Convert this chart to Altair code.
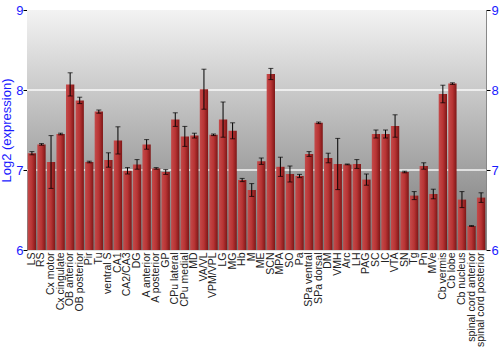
import altair as alt
import pandas as pd

regions = ["LS", "RS", "Cx motor", "Cx cingulate", "OB anterior", "OB posterior", "Pir", "Tu",
           "ventral S", "CA1", "CA2/CA3", "DG", "A anterior", "A posterior", "GP", "CPu lateral",
           "CPu medial", "MD", "VA/VL", "VPM/VPL", "LG", "MG", "Hb", "M", "ME", "SCN", "MPA", "SO",
           "Pa", "SPa ventral", "SPa dorsal", "DM", "VMH", "Arc", "LH", "PAG", "SC", "IC", "VTA",
           "SN", "Tg", "Pn", "MVe", "Cb vermis", "Cb lobe", "Cb nucleus",
           "spinal cord anterior", "spinal cord posterior"]
values = [7.21, 7.32, 7.10, 7.45, 8.07, 7.87, 7.10, 7.73,
          7.125, 7.37, 6.99, 7.07, 7.32, 7.02, 6.975, 7.63,
          7.42, 7.43, 8.01, 7.44, 7.63, 7.49, 6.875, 6.75, 7.11, 8.20, 7.04, 6.95,
          6.925, 7.20, 7.59, 7.15, 7.075, 7.07, 7.075, 6.88, 7.45, 7.45, 7.55,
          6.975, 6.68, 7.05, 6.70, 7.95, 8.08, 6.63,
          6.30, 6.655]
errors = [0.02, 0.01, 0.33, 0.01, 0.145, 0.04, 0.01, 0.02,
          0.09, 0.17, 0.04, 0.06, 0.06, 0.01, 0.03, 0.085,
          0.125, 0.03, 0.25, 0.01, 0.22, 0.10, 0.02, 0.08, 0.04, 0.07, 0.12, 0.10,
          0.02, 0.03, 0.01, 0.06, 0.32, 0.005, 0.055, 0.07, 0.05, 0.05, 0.14,
          0.01, 0.05, 0.04, 0.06, 0.11, 0.01, 0.10,
          0.005, 0.06]

df = pd.DataFrame({"region": regions, "value": values, "err": errors})
df["lo"] = df["value"] - df["err"]
df["hi"] = df["value"] + df["err"]
df["base"] = 6.0

W, H = 459, 240
blue = "#1a1aff"
font = "Liberation Sans"

xenc = alt.X("region:N", sort=regions, title=None,
             scale=alt.Scale(paddingInner=0.13, paddingOuter=0.08),
             axis=alt.Axis(labelAngle=270, labelFontSize=10.5, labelColor="#222222", labelFont=font,
                           labelAlign="right", labelBaseline="middle", labelPadding=2,
                           ticks=False, domain=False, labelOverlap=False, labelBound=False))
yscale = alt.Scale(domain=[6, 9], nice=False, zero=False)

bg = alt.Chart(pd.DataFrame({"a": [0]})).mark_rect(
    color=alt.Gradient(gradient="linear", x1=0, x2=0, y1=0, y2=1,
                       stops=[alt.GradientStop(offset=0, color="#f3f3f3"),
                              alt.GradientStop(offset=1, color="#777777")])
).encode(x=alt.value(0), x2=alt.value(W), y=alt.value(0), y2=alt.value(H))

grid = alt.Chart(pd.DataFrame({"g": [7, 8]})).mark_rule(color="white", strokeWidth=1.5, opacity=0.9).encode(
    y=alt.Y("g:Q", scale=yscale,
            axis=alt.Axis(title="Log2 (expression)", titleColor=blue, titleFont=font,
                          titleFontSize=13, titleFontWeight="normal", titlePadding=2,
                          labelColor=blue, labelFont=font, labelFontSize=13, format="d",
                          values=[6, 7, 8, 9], grid=False, domain=True, domainColor="#888888",
                          tickColor="black", tickSize=4, labelPadding=0)))

bars = alt.Chart(df).mark_bar(
    color=alt.Gradient(gradient="linear", x1=0, x2=1, y1=0, y2=0,
                       stops=[alt.GradientStop(offset=0, color="#c44a4a"),
                              alt.GradientStop(offset=0.5, color="#b83434"),
                              alt.GradientStop(offset=1, color="#7e1616")])
).encode(
    x=xenc,
    y=alt.Y("value:Q", scale=yscale),
    y2=alt.Y2("base:Q"),
)

rules = alt.Chart(df).mark_rule(color="black", strokeWidth=1).encode(
    x=alt.X("region:N", sort=regions), y=alt.Y("lo:Q", scale=yscale), y2="hi:Q")
caps_lo = alt.Chart(df).mark_tick(color="black", orient="horizontal", size=5, thickness=1).encode(
    x=alt.X("region:N", sort=regions), y=alt.Y("lo:Q", scale=yscale))
caps_hi = alt.Chart(df).mark_tick(color="black", orient="horizontal", size=5, thickness=1).encode(
    x=alt.X("region:N", sort=regions), y=alt.Y("hi:Q", scale=yscale))

right = alt.Chart(pd.DataFrame({"v": [6.0, 9.0]})).mark_point(opacity=0).encode(
    y=alt.Y("v:Q", scale=yscale,
            axis=alt.Axis(orient="right", title=None, labelColor=blue, labelFont=font,
                          labelFontSize=13, values=[6, 7, 8, 9], grid=False, format="d",
                          domainColor="#888888", tickColor="black", tickSize=4, labelPadding=1)))

left_layer = alt.layer(bg, grid, bars, rules, caps_lo, caps_hi)
chart = alt.layer(left_layer, right).resolve_scale(y="independent").properties(
    width=W, height=H,
    autosize=alt.AutoSizeParams(type="none"),
    padding={"left": 27, "top": 10, "right": 14, "bottom": 100},
).configure_view(stroke="#888888", strokeWidth=1).configure(background="white")

chart.save("out.html", embed_options={"renderer": "svg", "actions": False})
